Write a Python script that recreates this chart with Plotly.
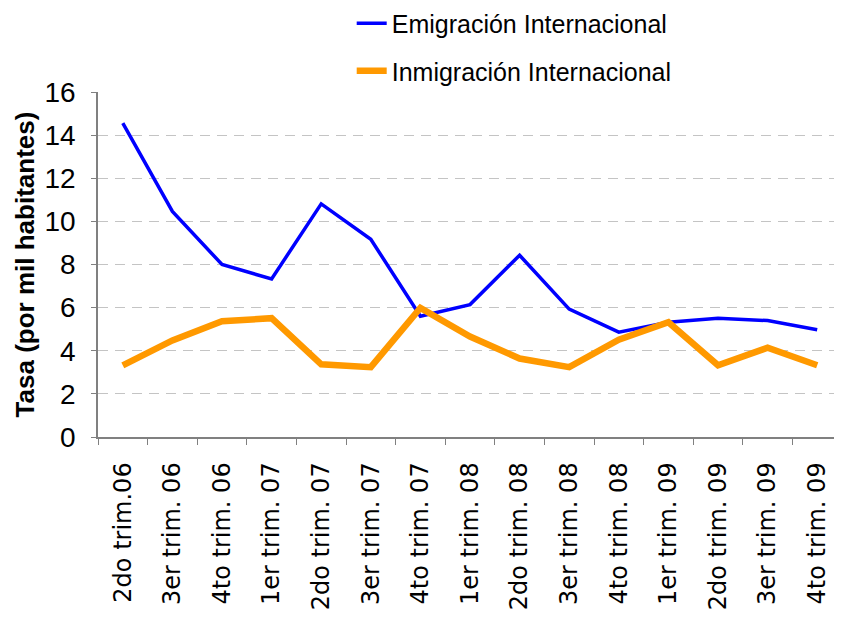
import plotly.graph_objects as go

categories = ["2do trim.06", "3er trim. 06", "4to trim. 06", "1er trim. 07", "2do trim. 07",
              "3er trim. 07", "4to trim. 07", "1er trim. 08", "2do trim. 08", "3er trim. 08",
              "4to trim. 08", "1er trim. 09", "2do trim. 09", "3er trim. 09", "4to trim. 09"]
emigracion = [14.56, 10.46, 8.0, 7.33, 10.81, 9.17, 5.60, 6.14, 8.43, 5.93, 4.86, 5.32, 5.51, 5.40, 4.97]
inmigracion = [3.32, 4.48, 5.37, 5.51, 3.37, 3.24, 5.99, 4.66, 3.64, 3.24, 4.51, 5.32, 3.33, 4.14, 3.33]
y_ticks = [0, 2, 4, 6, 8, 10, 12, 14, 16]

fig = go.Figure()
fig.add_trace(go.Scatter(x=categories, y=emigracion, mode="lines", name="Emigración Internacional",
                         line=dict(color="#0000FF", width=3.5), legendgroup="a"))
fig.add_trace(go.Scatter(x=categories, y=inmigracion, mode="lines", name="Inmigración Internacional",
                         line=dict(color="#FF9900", width=6.5), legendgroup="b"))

fig.update_layout(
    width=834, height=615,
    margin=dict(l=90, r=0, t=84, b=186, autoexpand=False),
    plot_bgcolor="white", paper_bgcolor="white",
    font=dict(family="Liberation Sans, Arial, sans-serif", color="#000000"),
    showlegend=True,
    legend=dict(x=0.341, y=1.265, xanchor="left", yanchor="top",
                font=dict(size=25, family="Liberation Sans, Arial, sans-serif"),
                tracegroupgap=12, bgcolor="rgba(0,0,0,0)"),
    xaxis=dict(type="category", tickangle=-90,
               tickfont=dict(size=24, family="DejaVu Sans, sans-serif"),
               showline=True, linecolor="#808080", linewidth=1.5,
               ticks="outside", tickson="boundaries", ticklen=6, tickcolor="#808080",
               ticklabelstandoff=14,
               showgrid=False, range=[-0.5, 14.5], automargin=False),
    yaxis=dict(range=[0, 16], tickvals=y_ticks,
               tickfont=dict(size=28, family="Liberation Sans, sans-serif"),
               showline=True, linecolor="#808080", linewidth=1.5,
               ticks="outside", ticklen=5, tickcolor="#808080",
               ticklabelstandoff=10,
               showgrid=True, gridcolor="#C4C4C4", griddash="10px,7px", gridwidth=1,
               zeroline=False, automargin=False,
               title=dict(text="<b>Tasa (por mil habitantes)</b>",
                          font=dict(size=26, family="Liberation Sans, Arial, sans-serif"),
                          standoff=2)),
)

fig.write_html("out.html")
